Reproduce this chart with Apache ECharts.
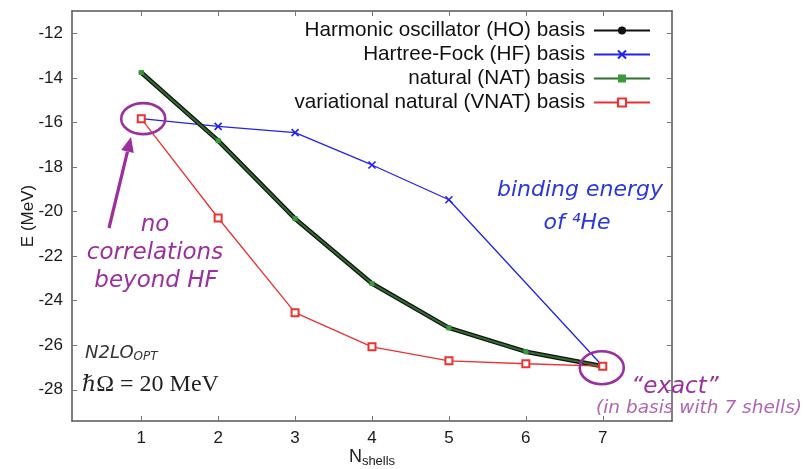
<!DOCTYPE html>
<html>
<head>
<meta charset="utf-8">
<script src="https://cdn.jsdelivr.net/npm/echarts@6/dist/echarts.min.js"></script>
<style>html,body{margin:0;padding:0;background:#fff}#c{width:805px;height:469px}</style>
</head>
<body>
<div id="c"></div>
<script>
// ---- data ----
const nShells = [1, 2, 3, 4, 5, 6, 7];
const hoE   = [-13.76, -16.82, -20.32, -23.23, -25.22, -26.29, -26.94];
const hfE   = [-15.83, -16.18, -16.46, -17.91, -19.47, null, -26.94];
const natE  = [-13.76, -16.82, -20.32, -23.23, -25.22, -26.29, -26.94];
const vnatE = [-15.83, -20.29, -24.54, -26.07, -26.70, -26.83, -26.94];
const xTicks = [1, 2, 3, 4, 5, 6, 7];
const yTicks = [-12, -14, -16, -18, -20, -22, -24, -26, -28];
const seriesNames = ['Harmonic oscillator (HO) basis', 'Hartree-Fock (HF) basis', 'natural (NAT) basis', 'variational natural (VNAT) basis'];

const chart = echarts.init(document.getElementById('c'), null, {renderer: 'canvas'});
const pairs = arr => nShells.map((x, i) => [x, arr[i]]);
const boxColor = '#555';
const tickFont = {fontFamily: 'Liberation Sans', fontSize: 17, color: '#1a1a1a'};
const purple = '#9b2f9d';

const legendRows = [31, 55, 79, 103];
const legends = seriesNames.map((n, i) => ({
  data: [n], right: 154, top: legendRows[i] - 11, align: 'right', orient: 'vertical',
  itemWidth: 56, itemHeight: 10, itemGap: 0, padding: 0, selectedMode: false,
  textStyle: {fontFamily: 'Liberation Sans', fontSize: 20.7, color: '#111', padding: [0, 4, 0, 0]}
}));

const option = {
  backgroundColor: '#fff',
  animation: false,
  grid: {left: 72, right: 133, top: 11, bottom: 48, containLabel: false, outerBoundsMode: 'none'},
  legend: legends,
  xAxis: [{
    type: 'value', min: 0.1, max: 7.9, position: 'bottom',
    name: '{n|N}{s|shells}', nameLocation: 'middle', nameGap: 25, nameMoveOverlap: false,
    nameTextStyle: {rich: {n: {fontFamily: 'Liberation Sans', fontSize: 18, color: '#1a1a1a'}, s: {fontFamily: 'Liberation Sans', fontSize: 13, color: '#1a1a1a', padding: [9, 0, 0, 0]}}},
    axisLine: {show: true, lineStyle: {color: boxColor, width: 1.5}},
    axisTick: {show: true, inside: true, length: 5, customValues: xTicks, lineStyle: {color: '#777'}},
    axisLabel: Object.assign({customValues: xTicks, margin: 9}, tickFont),
    splitLine: {show: false}
  }, {
    type: 'value', min: 0.1, max: 7.9, position: 'top',
    axisLine: {show: true, lineStyle: {color: boxColor, width: 1.5}},
    axisTick: {show: true, inside: true, length: 5, customValues: xTicks, lineStyle: {color: '#777'}},
    axisLabel: {show: false}, splitLine: {show: false}
  }],
  yAxis: [{
    type: 'value', min: -29.4, max: -11, position: 'left',
    name: 'E (MeV)', nameLocation: 'middle', nameGap: 35, nameMoveOverlap: false,
    nameTextStyle: {fontFamily: 'Liberation Sans', fontSize: 17, color: '#1a1a1a'},
    axisLine: {show: true, lineStyle: {color: boxColor, width: 1.5}},
    axisTick: {show: true, inside: true, length: 5, customValues: yTicks, lineStyle: {color: '#777'}},
    axisLabel: Object.assign({customValues: yTicks, margin: 9}, tickFont),
    splitLine: {show: false}
  }, {
    type: 'value', min: -29.4, max: -11, position: 'right',
    axisLine: {show: true, lineStyle: {color: boxColor, width: 1.5}},
    axisTick: {show: true, inside: true, length: 5, customValues: yTicks, lineStyle: {color: '#777'}},
    axisLabel: {show: false}, splitLine: {show: false}
  }],
  series: [
    {name: seriesNames[1], type: 'line', data: pairs(hfE), connectNulls: true, z: 2,
     symbol: 'path://M0,0L10,10M10,0L0,10', symbolSize: 7,
     lineStyle: {color: '#2222ee', width: 1.3},
     itemStyle: {color: '#2222ee', borderColor: '#2222ee', borderWidth: 1.6}},
    {name: seriesNames[0], type: 'line', data: pairs(hoE), z: 3,
     symbol: 'circle', symbolSize: 5,
     lineStyle: {color: '#111', width: 4.5}, itemStyle: {color: '#111'}},
    {name: seriesNames[2], type: 'line', data: pairs(natE), z: 4,
     symbol: 'rect', symbolSize: 5,
     lineStyle: {color: '#2f6e2f', width: 2}, itemStyle: {color: '#3a9a3a'}},
    {name: seriesNames[3], type: 'line', data: pairs(vnatE), z: 5,
     symbol: 'emptyRect', symbolSize: 7,
     lineStyle: {color: '#ee3030', width: 1.3},
     itemStyle: {color: '#ee3030', borderColor: '#ee3030', borderWidth: 1.5}}
  ]
};
chart.setOption(option);

// annotations
const p1 = chart.convertToPixel({xAxisIndex: 0, yAxisIndex: 0}, [nShells[0], vnatE[0]]);
const p7 = chart.convertToPixel({xAxisIndex: 0, yAxisIndex: 0}, [nShells[6], vnatE[6]]);

const tip = [131, 137], tail = [109, 228];
const dx = tip[0] - tail[0], dy = tip[1] - tail[1], L = Math.hypot(dx, dy);
const ux = dx / L, uy = dy / L, hl = 15, hw = 6.5;
const bx = tip[0] - ux * hl, by = tip[1] - uy * hl;

const it = (txt, x, y, size, color, extra) => ({
  type: 'text', x: x, y: y, z: 100,
  style: Object.assign({text: txt, fill: color, fontFamily: 'DejaVu Sans', fontStyle: 'italic', fontSize: size, align: 'center', verticalAlign: 'middle'}, extra || {})
});

chart.setOption({
  graphic: [
    {type: 'ellipse', z: 100, shape: {cx: p1[0] + 2, cy: p1[1], rx: 22, ry: 15.5}, style: {fill: 'none', stroke: purple, lineWidth: 2.6}},
    {type: 'ellipse', z: 100, shape: {cx: p7[0] - 1, cy: p7[1] + 1.5, rx: 22, ry: 16.5}, style: {fill: 'none', stroke: purple, lineWidth: 2.6}},
    {type: 'line', z: 100, shape: {x1: tail[0], y1: tail[1], x2: bx, y2: by}, style: {stroke: purple, lineWidth: 3.2}},
    {type: 'polygon', z: 100, shape: {points: [[tip[0], tip[1]], [bx - uy * hw, by + ux * hw], [bx + uy * hw, by - ux * hw]]}, style: {fill: purple}},
    it('no', 155, 225, 23, purple),
    it('correlations', 155, 253, 23, purple),
    it('beyond HF', 156, 281, 23, purple),
    it('binding energy', 580, 190, 22, '#2a36e0'),
    it('of ⁴He', 577, 223, 22, '#2a36e0'),
    it('\u201Cexact\u201D', 675, 387, 23, purple),
    it('(in basis with 7 shells)', 699, 408, 18.5, '#b064b4'),
    {type: 'text', x: 85, y: 353, z: 100, style: {
      text: '{a|N2LO}{b|OPT}', verticalAlign: 'middle', align: 'left',
      rich: {a: {fontFamily: 'DejaVu Sans', fontStyle: 'italic', fontSize: 18, fill: '#333'},
             b: {fontFamily: 'DejaVu Sans', fontStyle: 'italic', fontSize: 12, fill: '#333', padding: [8, 0, 0, 0]}}}},
    {type: 'text', x: 82, y: 385, z: 100, style: {
      text: '{h|ℏ}{t|Ω = 20 MeV}', verticalAlign: 'middle', align: 'left',
      rich: {h: {fontFamily: 'DejaVu Serif', fontStyle: 'italic', fontSize: 22, fill: '#222'},
             t: {fontFamily: 'Liberation Serif', fontSize: 24, fill: '#222'}}}}
  ]
});
</script>
</body>
</html>
